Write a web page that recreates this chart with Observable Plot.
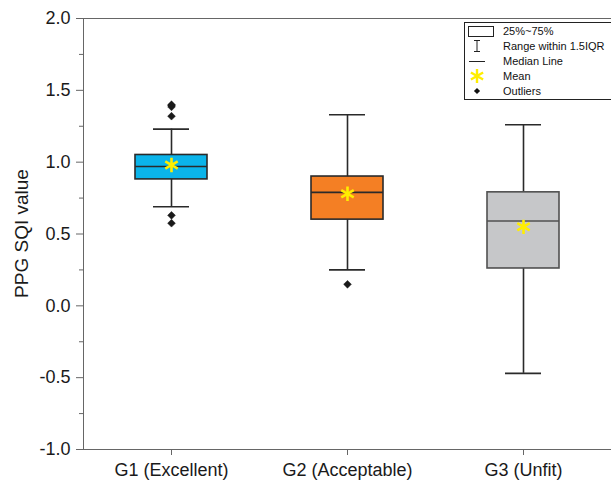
<!DOCTYPE html>
<html><head><meta charset="utf-8">
<script src="https://cdn.jsdelivr.net/npm/d3@7"></script>
<script src="https://cdn.jsdelivr.net/npm/@observablehq/plot@0.6"></script>
<style>html,body{margin:0;padding:0;background:#fff;} svg{display:block;}</style>
</head><body><div id="chart"></div>
<script>
// ---- data ----
const groups = ["G1 (Excellent)", "G2 (Acceptable)", "G3 (Unfit)"];
const q1 = [0.88, 0.60, 0.26];
const medians = [0.97, 0.79, 0.59];
const q3 = [1.05, 0.90, 0.79];
const whiskerLow = [0.69, 0.25, -0.47];
const whiskerHigh = [1.23, 1.33, 1.26];
const means = [0.98, 0.78, 0.55];
const outlierGroup = ["G1 (Excellent)", "G1 (Excellent)", "G1 (Excellent)", "G1 (Excellent)", "G1 (Excellent)", "G1 (Excellent)", "G2 (Acceptable)"];
const outlierValue = [1.40, 1.385, 1.32, 0.63, 0.575, 1.395, 0.15];
const boxFills = ["#0bb4ea", "#f47f24", "#c6c7c9"];
const boxStrokes = ["#2a2a2a", "#2a2a2a", "#505050"];
const yTicks = [-1, -0.5, 0, 0.5, 1, 1.5, 2];
const yMinorTicks = [-0.75, -0.25, 0.25, 0.75, 1.25, 1.75];
const yLabel = "PPG SQI value";
const legendLabels = ["25%~75%", "Range within 1.5IQR", "Median Line", "Mean", "Outliers"];

const boxes = groups.map((g, i) => ({
  group: g, q1: q1[i], median: medians[i], q3: q3[i],
  lo: whiskerLow[i], hi: whiskerHigh[i], mean: means[i],
  fill: boxFills[i], stroke: boxStrokes[i]
}));
const outliers = outlierGroup.map((g, i) => ({group: g, value: outlierValue[i]}));

const FONT = "'Liberation Sans', Arial, sans-serif";

const chart = Plot.plot({
  width: 611, height: 483,
  marginTop: 18, marginBottom: 34, marginLeft: 83, marginRight: 0,
  style: {fontFamily: FONT, fontSize: "18px", background: "#fff", color: "#1a1a1a"},
  x: {type: "band", domain: groups, padding: 0, label: null},
  y: {domain: [-1, 2], label: null},
  color: {type: "identity"},
  marks: [
    Plot.ruleX(boxes, {x: "group", y1: "lo", y2: "hi", stroke: "#2a2a2a", strokeWidth: 1.6}),
    Plot.tickY(boxes, {x: "group", y: "lo", insetLeft: 70, insetRight: 70, stroke: "#2a2a2a", strokeWidth: 1.6}),
    Plot.tickY(boxes, {x: "group", y: "hi", insetLeft: 70, insetRight: 70, stroke: "#2a2a2a", strokeWidth: 1.6}),
    Plot.barY(boxes, {x: "group", y1: "q1", y2: "q3", fill: "fill", stroke: "stroke", strokeWidth: 1.6, insetLeft: 52, insetRight: 52}),
    Plot.tickY(boxes, {x: "group", y: "median", insetLeft: 52, insetRight: 52, stroke: "stroke", strokeWidth: 1.6}),
    Plot.dot(outliers, {x: "group", y: "value", symbol: "diamond2", r: 3.5, fill: "#1a1a1a", stroke: "#1a1a1a", strokeWidth: 0.5}),
    Plot.dot(boxes, {x: "group", y: "mean", symbol: "asterisk", r: 6.8, stroke: "#ffee00", strokeWidth: 2.6}),
    Plot.axisY({ticks: yTicks, tickFormat: d => d.toFixed(1), tickSize: 7, tickPadding: 6, stroke: "#666", label: null}),
    Plot.axisY({ticks: yMinorTicks, tickFormat: () => "", tickSize: 4, stroke: "#666", label: null}),
    Plot.axisX({tickSize: 6, tickPadding: 8, stroke: "#666", label: null}),
    Plot.frame({stroke: "#666"})
  ]
});

const svg = d3.select(chart);

// y-axis title
svg.append("text")
  .attr("transform", "translate(28,233.5) rotate(-90)")
  .attr("text-anchor", "middle")
  .attr("font-family", FONT).attr("font-size", 19).attr("fill", "#1a1a1a")
  .text(yLabel);

// legend (inside the frame, top-right)
const lg = svg.append("g").attr("font-family", FONT).attr("font-size", 11).attr("text-anchor", "start");
lg.append("rect").attr("x", 464.5).attr("y", 22.5).attr("width", 160).attr("height", 77).attr("fill", "#fff").attr("stroke", "#222");
const rowY = [31, 46, 61, 76, 91];
const sx = 477;
lg.append("rect").attr("x", 468.5).attr("y", 26.5).attr("width", 25).attr("height", 10).attr("fill", "#fff").attr("stroke", "#222");
lg.append("path").attr("d", `M${sx - 3},40.5H${sx + 3}M${sx},40.5V51.5M${sx - 3},51.5H${sx + 3}`).attr("stroke", "#222").attr("fill", "none");
lg.append("path").attr("d", `M469,61.5H485`).attr("stroke", "#222");
lg.append("path").attr("d", d3.symbol(d3.symbolAsterisk, 140)()).attr("transform", `translate(${sx},76)`).attr("stroke", "#ffee00").attr("stroke-width", 2.4).attr("fill", "none");
lg.append("path").attr("d", d3.symbol(d3.symbolDiamond2, 24)()).attr("transform", `translate(${sx},91)`).attr("fill", "#111");
legendLabels.forEach((t, i) => {
  lg.append("text").attr("x", 503).attr("y", rowY[i]).attr("dy", "0.35em").attr("fill", "#111").text(t);
});

document.getElementById("chart").appendChild(chart);
</script>
</body></html>
